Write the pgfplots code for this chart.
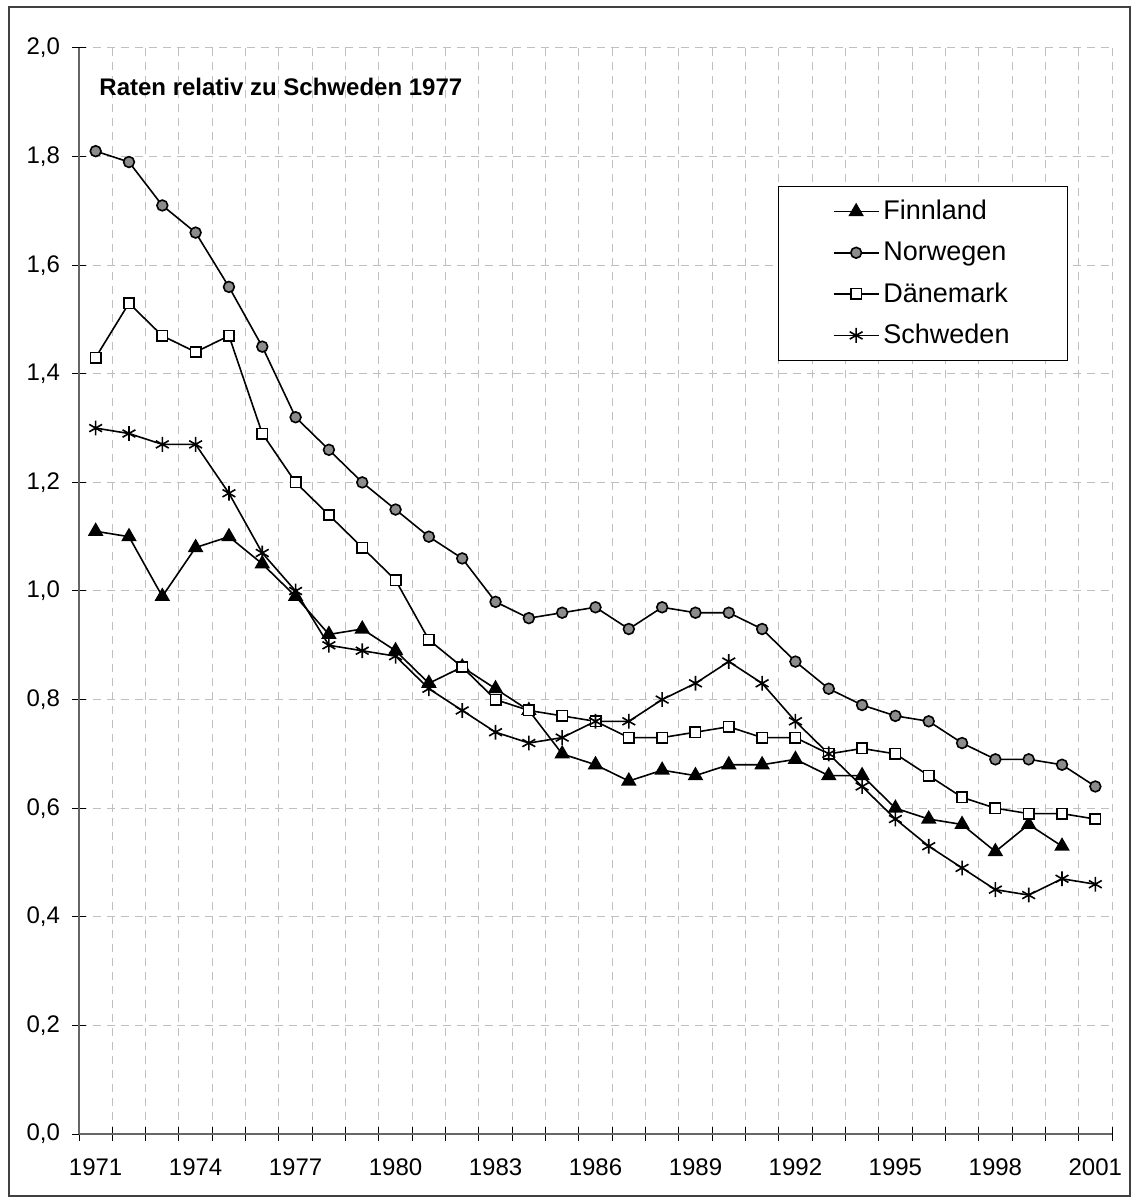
\documentclass[border=0pt]{standalone}
\usepackage{pgfplots}
\pgfplotsset{compat=1.18}
\usepackage{fontspec}
\setmainfont{Liberation Sans}
\begin{document}
\begin{tikzpicture}[x=1pt,y=1pt]
\path[use as bounding box] (0,0) rectangle (569,602);
\draw[line width=1pt, black!75] (4.5,4) rectangle (565,598.5);
\begin{axis}[
  at={(39.5pt,35pt)}, anchor=south west,
  scale only axis, width=516.5pt, height=543pt,
  xmin=1970.5, xmax=2001.5, ymin=0, ymax=2,
  axis lines*=left,
  axis line style={black!60, line width=0.6pt},
  xtick={1970.5,1971.5,1972.5,1973.5,1974.5,1975.5,1976.5,1977.5,1978.5,1979.5,1980.5,1981.5,1982.5,1983.5,1984.5,1985.5,1986.5,1987.5,1988.5,1989.5,1990.5,1991.5,1992.5,1993.5,1994.5,1995.5,1996.5,1997.5,1998.5,1999.5,2000.5,2001.5},
  xticklabels={},
  extra x ticks={1971,1974,1977,1980,1983,1986,1989,1992,1995,1998,2001},
  extra x tick labels={1971,1974,1977,1980,1983,1986,1989,1992,1995,1998,2001},
  extra x tick style={major tick length=0pt, grid=none},
  ytick={0,0.2,0.4,0.6,0.8,1.0,1.2,1.4,1.6,1.8,2.0},
  yticklabels={{0,0},{0,2},{0,4},{0,6},{0,8},{1,0},{1,2},{1,4},{1,6},{1,8},{2,0}},
  grid=major,
  major grid style={black!25, dash pattern=on 4pt off 3pt, line width=0.5pt},
  tick align=center, major tick length=7pt,
  tick style={black, line width=0.5pt},
  tick label style={font=\fontsize{12}{14}\selectfont},
  xticklabel style={yshift=-9pt},
  yticklabel style={xshift=-2.5pt},
  clip=false,
  every axis plot/.append style={black, line width=0.8pt},
  legend cell align=left,
  legend style={at={(0.677,0.873)}, anchor=north west, draw=black, line width=0.5pt,
    font=\fontsize{13.5}{15.5}\selectfont, row sep=5.5pt, inner xsep=27pt, inner ysep=5pt},
  legend image code/.code={\draw[mark repeat=2,mark phase=2] plot coordinates {(0pt,0pt) (11.25pt,0pt) (22.5pt,0pt)};},
]
\addplot[mark=triangle*, mark size=3.7pt, mark options={fill=black}] coordinates {
(1971,1.11)(1972,1.10)(1973,0.99)(1974,1.08)(1975,1.10)(1976,1.05)(1977,0.99)(1978,0.92)(1979,0.93)(1980,0.89)
(1981,0.83)(1982,0.86)(1983,0.82)(1984,0.78)(1985,0.70)(1986,0.68)(1987,0.65)(1988,0.67)(1989,0.66)(1990,0.68)
(1991,0.68)(1992,0.69)(1993,0.66)(1994,0.66)(1995,0.60)(1996,0.58)(1997,0.57)(1998,0.52)(1999,0.57)(2000,0.53)};
\addlegendentry{Finnland}
\addplot[mark=*, mark size=2.7pt, mark options={fill=black!45}] coordinates {
(1971,1.81)(1972,1.79)(1973,1.71)(1974,1.66)(1975,1.56)(1976,1.45)(1977,1.32)(1978,1.26)(1979,1.20)(1980,1.15)
(1981,1.10)(1982,1.06)(1983,0.98)(1984,0.95)(1985,0.96)(1986,0.97)(1987,0.93)(1988,0.97)(1989,0.96)(1990,0.96)
(1991,0.93)(1992,0.87)(1993,0.82)(1994,0.79)(1995,0.77)(1996,0.76)(1997,0.72)(1998,0.69)(1999,0.69)(2000,0.68)(2001,0.64)};
\addlegendentry{Norwegen}
\addplot[mark=square*, mark size=2.6pt, mark options={fill=white}] coordinates {
(1971,1.43)(1972,1.53)(1973,1.47)(1974,1.44)(1975,1.47)(1976,1.29)(1977,1.20)(1978,1.14)(1979,1.08)(1980,1.02)
(1981,0.91)(1982,0.86)(1983,0.80)(1984,0.78)(1985,0.77)(1986,0.76)(1987,0.73)(1988,0.73)(1989,0.74)(1990,0.75)
(1991,0.73)(1992,0.73)(1993,0.70)(1994,0.71)(1995,0.70)(1996,0.66)(1997,0.62)(1998,0.60)(1999,0.59)(2000,0.59)(2001,0.58)};
\addlegendentry{Dänemark}
\addplot[mark=asterisk, mark size=3.7pt] coordinates {
(1971,1.30)(1972,1.29)(1973,1.27)(1974,1.27)(1975,1.18)(1976,1.07)(1977,1.00)(1978,0.90)(1979,0.89)(1980,0.88)
(1981,0.82)(1982,0.78)(1983,0.74)(1984,0.72)(1985,0.73)(1986,0.76)(1987,0.76)(1988,0.80)(1989,0.83)(1990,0.87)
(1991,0.83)(1992,0.76)(1993,0.70)(1994,0.64)(1995,0.58)(1996,0.53)(1997,0.49)(1998,0.45)(1999,0.44)(2000,0.47)(2001,0.46)};
\addlegendentry{Schweden}
\node[anchor=base west, inner sep=0pt, font=\bfseries\fontsize{12}{14}\selectfont] at (rel axis cs:0.0194,0.9567) {Raten relativ zu Schweden 1977};
\end{axis}
\end{tikzpicture}
\end{document}
